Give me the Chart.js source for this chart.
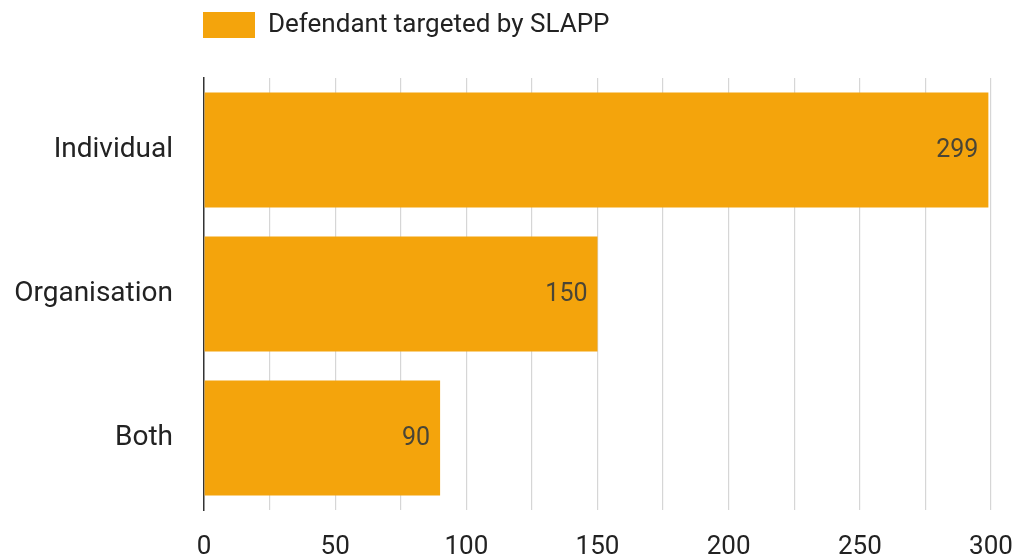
<!DOCTYPE html>
<html>
<head>
<meta charset="utf-8">
<script src="https://cdn.jsdelivr.net/npm/chart.js@4/dist/chart.umd.min.js"></script>
<style>
  html, body { margin: 0; padding: 0; background: #ffffff; }
  #wrap { width: 1019px; height: 559px; position: relative; }
</style>
</head>
<body>
<div id="wrap"><canvas id="c"></canvas></div>
<script>
const categories = ['Individual', 'Organisation', 'Both'];
const seriesName = 'Defendant targeted by SLAPP';
const values = [299, 150, 90];
const tickLabels = [0, 50, 100, 150, 200, 250, 300];
const gridStep = 25;

const BAR_COLOR = '#f4a40c';
const FONT = 'Roboto';

const legendAdjust = {
  id: 'legendAdjust',
  beforeUpdate(chart) {
    const lg = chart.legend;
    if (lg && !lg._patched) {
      const fit = lg.fit;
      lg.fit = function () { fit.call(this); this.height = 78; };
      lg._patched = true;
    }
  },
  beforeDraw(chart) {
    const lg = chart.legend;
    if (lg) {
      const pad = lg.options.labels.padding;
      const w = lg.right - lg.left;
      lg.left = chart.chartArea.left - 1 - pad;
      lg.right = lg.left + w;
    }
  }
};

const barLabels = {
  id: 'barLabels',
  afterDatasetsDraw(chart) {
    const ctx = chart.ctx;
    const meta = chart.getDatasetMeta(0);
    ctx.save();
    ctx.font = '25px ' + FONT;
    ctx.fillStyle = '#4a4536';
    ctx.textAlign = 'right';
    ctx.textBaseline = 'middle';
    meta.data.forEach((bar, i) => {
      ctx.fillText(String(chart.data.datasets[0].data[i]), bar.x - 10, bar.y + 1);
    });
    ctx.restore();
  }
};

new Chart(document.getElementById('c'), {
  type: 'bar',
  data: {
    labels: categories,
    datasets: [{
      label: seriesName,
      data: values,
      backgroundColor: BAR_COLOR,
      borderWidth: 0,
      categoryPercentage: 0.8,
      barPercentage: 1.0
    }]
  },
  options: {
    indexAxis: 'y',
    responsive: true,
    maintainAspectRatio: false,
    animation: false,
    layout: { padding: { left: 0, right: 28, top: 0, bottom: 0 } },
    plugins: {
      legend: {
        position: 'top',
        align: 'start',
        labels: {
          boxWidth: 52,
          boxHeight: 26,
          padding: 12,
          color: '#222',
          font: { family: FONT, size: 26 }
        }
      },
      tooltip: { enabled: false }
    },
    scales: {
      x: {
        min: 0,
        max: 300,
        ticks: {
          stepSize: gridStep,
          autoSkip: false,
          maxRotation: 0,
          padding: 22,
          color: '#222',
          font: { family: FONT, size: 26 },
          callback: (v) => tickLabels.includes(v) ? String(v) : ''
        },
        grid: {
          drawTicks: false,
          color: (c) => (c.tick && c.tick.value === 0) ? 'rgba(0,0,0,0)' : '#d6d6d6',
          lineWidth: 1.2
        },
        border: { display: false },
        afterFit: (s) => { s.height = 49; s.paddingRight = 0; s.paddingLeft = 0; }
      },
      y: {
        ticks: {
          padding: 31,
          color: '#222',
          font: { family: FONT, size: 28 }
        },
        grid: { display: false, drawTicks: false },
        border: { display: true, color: '#333', width: 1.5 },
        afterFit: (s) => { s.width = 204; s.paddingTop = 0; s.paddingBottom = 0; }
      }
    }
  },
  plugins: [legendAdjust, barLabels]
});
</script>
</body>
</html>
